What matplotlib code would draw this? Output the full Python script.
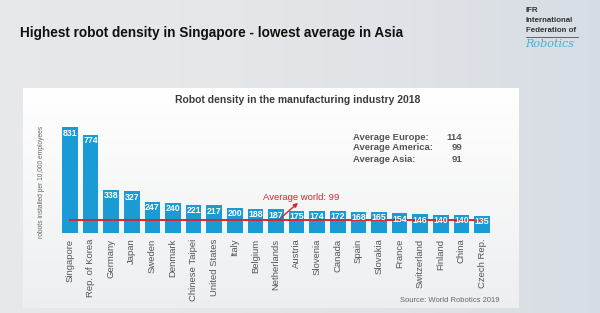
import matplotlib
matplotlib.use("Agg")
import matplotlib.pyplot as plt
import numpy as np

countries = ["Singapore", "Rep. of Korea", "Germany", "Japan", "Sweden", "Denmark",
             "Chinese Taipei", "United States", "Italy", "Belgium", "Netherlands",
             "Austria", "Slovenia", "Canada", "Spain", "Slovakia", "France",
             "Switzerland", "Finland", "China", "Czech Rep."]
density = [831, 774, 338, 327, 247, 240, 221, 217, 200, 188, 187, 175, 174, 172,
           168, 165, 154, 146, 140, 140, 135]
world_avg = 99
region_names = ["Average Europe:", "Average America:", "Average Asia:"]
region_values = [114, 99, 91]

plt.rcParams['font.family'] = ['Liberation Sans', 'DejaVu Sans']

W, H = 600, 313
fig = plt.figure(figsize=(6, 3.13), dpi=100)

# background
bg = fig.add_axes([0, 0, 1, 1], zorder=-10)
grad = np.linspace(0, 1, 300)[None, :]
col_a = np.array([0.905, 0.91, 0.915])
col_b = np.array([0.84, 0.865, 0.895])
img = col_a[None, None, :] * (1 - grad[..., None] ** 2) + col_b[None, None, :] * grad[..., None] ** 2
bg.imshow(np.repeat(img, 10, axis=0), aspect='auto', extent=[0, 1, 0, 1])
bg.set_xlim(0, 1); bg.set_ylim(0, 1); bg.axis('off')

def fx(px):
    return px / W

def fy(py):
    return 1 - py / H

# panel
pan = fig.add_axes([fx(23), fy(308), fx(519 - 23), (308 - 88) / H], zorder=-5)
pg = np.linspace(0, 1, 200)[:, None]
top = np.array([1.0, 1.0, 1.0]); bot = np.array([0.93, 0.935, 0.94])
pimg = top[None, None, :] * (1 - pg[..., None]) + bot[None, None, :] * pg[..., None]
pan.imshow(np.repeat(pimg, 5, axis=1), aspect='auto', extent=[0, 1, 0, 1])
pan.set_xlim(0, 1); pan.set_ylim(0, 1); pan.axis('off')

# main chart axes
x0 = 70.0; step = 20.6
left_px, right_px = 50, 510
ax = fig.add_axes([fx(left_px), fy(233), fx(right_px - left_px), (233 - 120) / H])
ax.set_xlim((left_px - x0) / step, (right_px - x0) / step)
ax.set_ylim(0, 113 / 0.127)
ax.patch.set_alpha(0)
for s in ax.spines.values():
    s.set_visible(False)
ax.set_yticks([])

xs = np.arange(len(countries))
ax.bar(xs, density, width=0.75, color='#1b9bd3', zorder=2)
for x, v in zip(xs, density):
    ax.text(x, v - 10, str(v), ha='center', va='top', color='white',
            fontsize=6.3, fontweight='bold', zorder=4)

ax.plot([xs[0], xs[-1] + 0.15], [world_avg, world_avg], color='#d8262e', lw=1.4, zorder=3)

ax.set_xticks(xs)
ax.set_xticklabels(countries, rotation=90, fontsize=6.8, color='#555555')
ax.tick_params(axis='x', length=0, pad=4)

ax.annotate("", xy=(11.17, 252), xytext=(10.1, 99),
            arrowprops=dict(arrowstyle='-|>', color='#d8262e', lw=1.0,
                            mutation_scale=6), zorder=5)
fig.text(fx(263), fy(197), "Average world: 99", color='#d8262e', fontsize=6.8,
         ha='left', va='center')

ax.set_ylabel("robots installed per 10,000 employees", fontsize=4.8, color='#666666')
ax.yaxis.set_label_coords((45 - left_px) / (right_px - left_px), 0.45)

# panel title
fig.text(fx(298), fy(100), "Robot density in the manufacturing industry 2018",
         ha='center', va='center', fontsize=7.5, fontweight='bold', color='#3c3c3c')

# region averages
for i, (n, v) in enumerate(zip(region_names, region_values)):
    y = fy(137 + 11 * i)
    fig.text(fx(353), y, n, ha='left', va='center', fontsize=6.8,
             fontweight='bold', color='#555555')
    fig.text(fx(462), y, str(v), ha='right', va='center', fontsize=6.8,
             fontweight='bold', color='#555555')

fig.text(fx(500), fy(300), "Source: World Robotics 2019", ha='right', va='center',
         fontsize=5.5, color='#666666')

# main title
fig.text(fx(20), fy(33), "Highest robot density in Singapore - lowest average in Asia",
         ha='left', va='center', fontsize=9.8, fontweight='bold', color='#111111')

# logo
for txt, yy in [("IFR", 11), ("International", 21), ("Federation of", 31)]:
    fig.text(fx(526), fy(yy), txt, ha='left', va='center', fontsize=5.7,
             fontweight='bold', color='#333333')
fig.add_artist(plt.Line2D([fx(526), fx(578)], [fy(36.5), fy(36.5)], color='#333333', lw=0.5))
fig.text(fx(525), fy(44), "Robotics", ha='left', va='center', fontsize=8, style='italic',
         color='#3fb4d8', family=['DejaVu Serif'])

fig.savefig("out.png", dpi=100)
